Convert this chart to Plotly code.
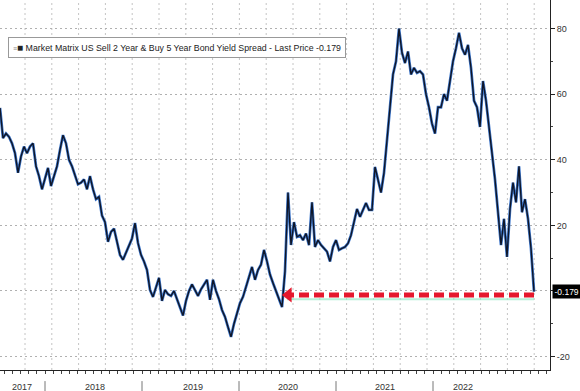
import plotly.graph_objects as go
import numpy as np

# ---- data ----
spread = [
    55.8, 46.6, 48, 47, 45, 42, 36, 41, 44, 42,
    44, 45, 38, 35, 31, 34.5, 37.5, 32, 35, 38,
    43, 47.5, 45, 40, 38, 35, 32.5, 33, 34, 31,
    35, 31, 28, 28.7, 23, 21, 15, 18, 19, 15,
    11, 9.5, 11.5, 13.5, 16, 20.7, 14.6, 11, 9, 6.4,
    0.3, -1.8, 1.5, 4, -3, 0.3, -1, -1.5, 0, -2.5,
    -5, -7.5, -3, 0, 2, 0, -1.5, 0.5, 2, 3.4,
    -2.7, 3.4, 0, -2.5, -5.8, -7.9, -11, -14, -10, -6.7,
    -3.7, -1.8, 1.5, 4.5, 7.3, 3.4, 6.4, 8, 12.5, 9,
    5, 2.4, 0, -3, -4.9, 6, 30, 14, 21, 16.5,
    17, 15.5, 17.5, 14, 27, 13.4, 15.5, 14, 13, 12,
    9, 13.4, 15.5, 12.5, 13, 13.4, 14.5, 17, 21, 25,
    22.6, 25, 26.8, 24.7, 24.7, 37.8, 33.8, 30, 36, 45,
    56, 66, 70, 80, 72.6, 69.5, 73, 66, 68, 66.5,
    67, 66, 60, 56, 51, 48, 56, 56, 60, 58,
    64, 70, 74, 78.7, 74, 72, 75, 68, 58, 56,
    50, 64, 58, 50, 44, 34, 24, 14, 22, 10.4,
    25, 33, 27, 38, 24, 28, 22, 13, -0.179,
]
last_price = -0.179
start_year = 2017.536
step_year = 3 / 97.0
year_labels = ["2017", "2018", "2019", "2020", "2021", "2022"]
year_label_pos = [2017.763, 2018.515, 2019.526, 2020.505, 2021.505, 2022.31]
year_bounds = [2018, 2019, 2020, 2021, 2022]
y_tick_vals = [-20, 0, 20, 40, 60, 80]
y_tick_text = ["-20", "", "20", "40", "60", "80"]
arrow_from_x = 2020.454
arrow_y = -1.2
title_text = "Market Matrix US Sell 2 Year & Buy 5 Year Bond Yield Spread - Last Price -0.179"

x = start_year + np.arange(len(spread)) * step_year
x_end = start_year + 550 / 97.0
grid_x0 = start_year + 25 / 97.0
grid_dx = 26.8 / 97.0

fig = go.Figure()
fig.add_trace(go.Scatter(x=x, y=spread, mode="lines",
                         line=dict(color="#3f78cc", width=2.8), hoverinfo="skip"))
fig.add_trace(go.Scatter(x=x, y=spread, mode="lines",
                         line=dict(color="#0f1628", width=1.4), hoverinfo="skip"))

# arrow (dashed red) with faint green shadow
fig.add_trace(go.Scatter(x=[x[-1], arrow_from_x + 0.04], y=[arrow_y - 1.3, arrow_y - 1.3], mode="lines",
                         line=dict(color="rgba(150,235,200,0.7)", width=2), hoverinfo="skip"))
fig.add_trace(go.Scatter(x=[x[-1], arrow_from_x + 0.06], y=[arrow_y, arrow_y], mode="lines",
                         line=dict(color="#e5182d", width=5, dash="10px,5px"), hoverinfo="skip"))
fig.add_trace(go.Scatter(x=[arrow_from_x + 0.055], y=[arrow_y], mode="markers",
                         marker=dict(symbol="triangle-left", size=13, color="#e5182d"),
                         hoverinfo="skip"))

shapes = []
gx = grid_x0
while gx < x_end:
    shapes.append(dict(type="line", xref="x", yref="y", x0=gx, x1=gx, y0=-24.1, y1=88.7,
                       layer="below", line=dict(color="#c4c4c4", width=1, dash="2px,3px")))
    gx += grid_dx
for b in year_bounds:
    shapes.append(dict(type="line", xref="x", yref="paper", x0=b, x1=b,
                       y0=-0.03, y1=-0.057, line=dict(color="#777", width=1)))

fig.update_layout(
    width=580, height=391,
    margin=dict(l=0, r=30, t=0, b=21),
    paper_bgcolor="white", plot_bgcolor="rgba(0,0,0,0)",
    showlegend=False,
    shapes=shapes,
    xaxis=dict(range=[start_year, x_end], tickmode="array", tickvals=year_label_pos,
               ticktext=year_labels, ticks="", showgrid=False, zeroline=False,
               showline=True, linecolor="#222", linewidth=1,
               tickfont=dict(family="Liberation Sans", size=9, color="#333"),
               ticklabelstandoff=8,
               minor=dict(tickmode="linear", tick0=2018, dtick=1 / 12, ticks="outside",
                          ticklen=3, tickcolor="#444", showgrid=False)),
    yaxis=dict(range=[-24.1, 88.7], side="right", tickmode="array", tickvals=y_tick_vals,
               ticktext=y_tick_text,
               showgrid=True, gridcolor="#b0b0b0", griddash="2px,3px", zeroline=False,
               showline=True, linecolor="#222", linewidth=1, ticks="outside", ticklen=4,
               tickcolor="#222",
               tickfont=dict(family="Liberation Sans", size=9, color="#333"),
               minor=dict(tickmode="linear", tick0=-10, dtick=20, ticks="outside",
                          ticklen=2, tickcolor="#444", showgrid=False)),
)

fig.add_annotation(xref="paper", yref="paper", x=8 / 550, y=1 - 47.5 / 370,
                   xanchor="left", yanchor="middle", showarrow=False,
                   text="<span style='font-size:7px;color:#888'>≡</span><span style='font-size:10px'>■</span> " + title_text,
                   font=dict(family="Liberation Sans", size=8.8, color="#222"),
                   bgcolor="white", bordercolor="#999", borderwidth=1, borderpad=4)

fig.add_annotation(xref="paper", yref="y", x=1.004, y=last_price, xanchor="left",
                   yanchor="middle", showarrow=False, text="-0.179",
                   font=dict(family="Liberation Sans", size=8.5, color="white"),
                   bgcolor="black", borderpad=1.5)

fig.write_html("out.html")
